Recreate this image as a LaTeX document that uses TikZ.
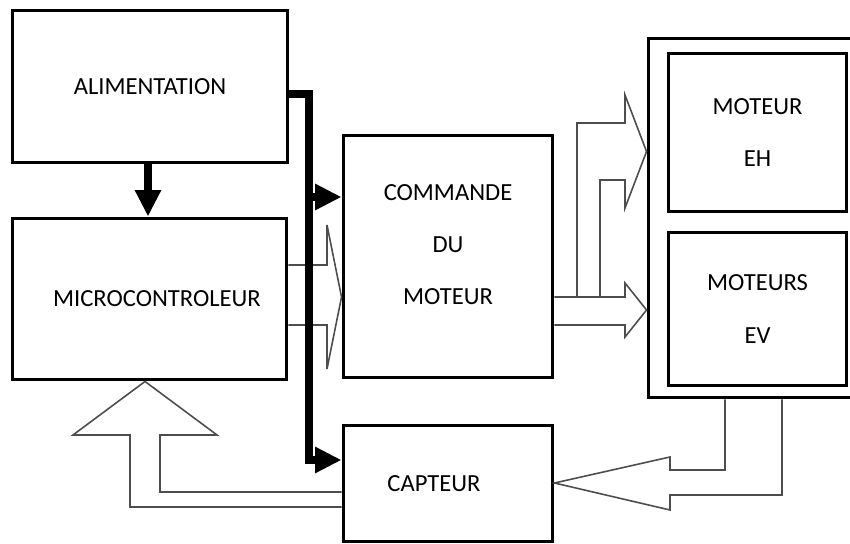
\documentclass[tikz,border=0pt]{standalone}
\usepackage{fontspec}
\setmainfont{Carlito}
\usepackage{tikz}
\usetikzlibrary{arrows.meta, calc}
\definecolor{myline}{HTML}{4D4D4D}

\begin{document}
\begin{tikzpicture}[x=0.02cm, y=-0.02cm, >={Triangle[length=15pt, width=14pt]},
    font=\fontsize{14}{29.8}\selectfont,
    blk/.style={draw=black, line width=1.7pt, inner sep=0pt, align=center},
    bus/.style={line width=4pt, line join=miter},
    hollow/.style={draw=myline, line width=0.9pt, line join=miter}]
  \useasboundingbox (0,0) rectangle (850,544);
  % blocs
  \node[blk, minimum width=5.52cm, minimum height=3.06cm] (alim) at (150,86.5) {ALIMENTATION};
  \node[blk, minimum width=5.5cm, minimum height=3.24cm] (micro) at (149.5,299) {\hspace*{0.3cm}MICROCONTROLEUR};
  \node[blk, minimum width=4.2cm, minimum height=4.86cm, text depth=0.48cm] (cmd) at (448,256.5) {COMMANDE\\DU\\MOTEUR};
  \node[blk, minimum width=4.2cm, minimum height=2.34cm] (capt) at (448,483.5) {CAPTEUR\hspace*{0.56cm}};
  \node[blk, minimum width=4.24cm, minimum height=7.2cm] (mot) at (754,218) {};
  \node[blk, minimum width=3.58cm, minimum height=3.18cm] (eh) at (757.5,132.5) {MOTEUR\\EH};
  \node[blk, minimum width=3.58cm, minimum height=3.08cm] (ev) at (757.5,309) {MOTEURS\\EV};
  % fleches creuses
  \draw[hollow] (micro.east |- 0,265) -- (327,265) -- (327,225) -- (cmd.west |- 0,297)
    -- (327,369) -- (327,325) -- (micro.east |- 0,325);
  \draw[hollow] (cmd.east |- 0,297) -- (625,297) -- (625,283) -- (mot.west |- 0,310)
    -- (625,337) -- (625,325) -- (cmd.east |- 0,325);
  \draw[hollow] (577,297) -- (577,123) -- (625,123) -- (625,95) -- (mot.west |- 0,151.5)
    -- (625,208) -- (625,180) -- (600,180) -- (600,297);
  \draw[hollow] (725,0 |- mot.south) -- (725,470) -- (670,470) -- (670,457) -- (capt.east |- 0,483)
    -- (670,510) -- (670,495) -- (782,495) -- (782,0 |- mot.south);
  \draw[hollow] (capt.west |- 0,492) -- (160,492) -- (160,435) -- (217,435) -- (145,0 |- micro.south)
    -- (73,435) -- (130,435) -- (130,507) -- (capt.west |- 0,507);
  % alimentation
  \draw[bus, ->] (148,0 |- alim.south) -- (148,0 |- micro.north);
  \draw[bus, ->] (alim.east |- 0,94) -| (309,460) -- (capt.west |- 0,460);
  \draw[bus, ->] (309,197) -- (cmd.west |- 0,197);
\end{tikzpicture}
\end{document}
